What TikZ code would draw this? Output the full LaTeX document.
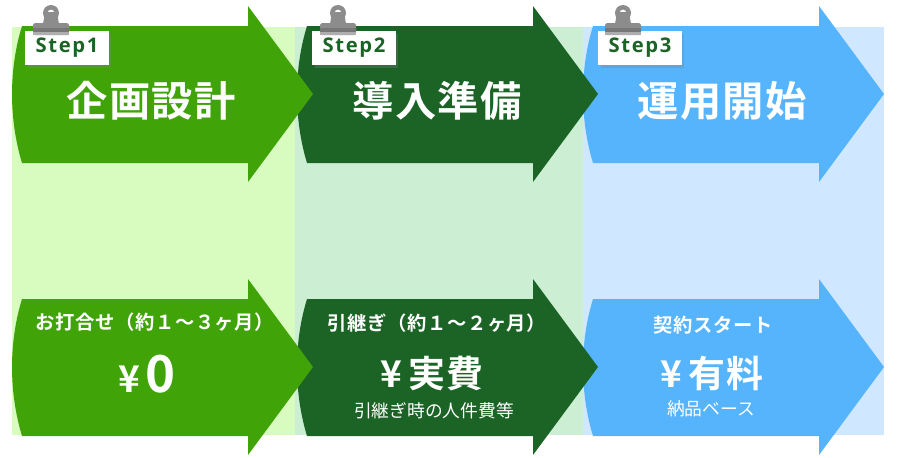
\documentclass[tikz,border=0pt]{standalone}
\usepackage{fontspec}
\usepackage{xcolor}
\usetikzlibrary{shadows}
\setmainfont{Noto Sans CJK JP}
\newfontfamily\jpbold[LetterSpace=3]{Noto Sans CJK JP Bold}
\newfontfamily\jpreg{Noto Sans CJK JP}
\newfontfamily\stepfont[LetterSpace=8]{Open Sans Bold}
\definecolor{stepgreen}{HTML}{40A408}
\definecolor{stepdark}{HTML}{1B6425}
\definecolor{stepblue}{HTML}{56B4FC}
\definecolor{bandgreen}{HTML}{D8FCC0}
\definecolor{banddark}{HTML}{CCEFD3}
\definecolor{bandblue}{HTML}{D0E8FF}
\definecolor{clipgray}{HTML}{8C8C8C}

% arrow body: bulging left edge, then a head
\newcommand{\stepshape}[3]{
    \fill[#3, shift={(#1,#2)}] (10,-68) -- (236,-68) -- (236,-88) -- (301,0) -- (236,88) -- (236,69)
        -- (10,69) .. controls (-3.3,25) and (-3.3,-25) .. cycle;
}
% paper clip over a label
\newcommand{\stepclip}[1]{
    \fill[clipgray, shift={(#1,0)}] (-6,12) -- (6,12) -- (8,24) -- (-8,24) -- cycle;
    \fill[clipgray, even odd rule, shift={(#1,0)}] (0,13) circle (8) (0,13) circle (3.5);
    \fill[clipgray, rounded corners=1pt, shift={(#1,0)}] (-18,23) rectangle (18,35);
    \fill[clipgray!85!black, shift={(#1,0)}] (-18,28) rectangle (18,32);
    \fill[clipgray!70, shift={(#1,0)}] (-18,32) rectangle (18,35);
}

\begin{document}
\begin{tikzpicture}[
    x=0.02cm, y=-0.02cm,
    stepbox/.style={fill=white, text=stepdark, minimum width=1.68cm, minimum height=0.68cm, inner sep=0pt,
        font=\stepfont\fontsize{11.5}{11.5}\selectfont, drop shadow={shadow xshift=0.05cm, shadow yshift=-0.05cm, opacity=0.3}},
    titletext/.style={text=white, inner sep=0pt, font=\jpbold\fontsize{23.5}{23.5}\selectfont},
    periodtext/.style={text=white, inner sep=0pt, font=\jpbold\fontsize{11}{11}\selectfont},
    pricetext/.style={text=white, inner sep=0pt, font=\jpbold\fontsize{21}{21}\selectfont},
    subtext/.style={text=white, inner sep=0pt, font=\jpreg\fontsize{10.1}{10.1}\selectfont}
]
    \useasboundingbox (0,0) rectangle (900,457);

    % Bands
    \fill[bandgreen] (12,27) rectangle (295,435);
    \fill[banddark] (295,27) rectangle (583,435);
    \fill[bandblue] (583,27) rectangle (884,435);

    % Arrows, last one first
    \stepshape{583}{94}{stepblue}
    \stepshape{297}{94}{stepdark}
    \stepshape{12}{94}{stepgreen}
    \stepshape{583}{367}{stepblue}
    \stepshape{297}{367}{stepdark}
    \stepshape{12}{367}{stepgreen}

    % Labels
    \node[stepbox] (step1) at (67,48) {Step1};
    \node[stepbox] (step2) at (354,48) {Step2};
    \node[stepbox] (step3) at (640,48) {Step3};
    \stepclip{51}
    \stepclip{338}
    \stepclip{623}

    % Titles
    \node[titletext] (title1) at (151,101) {企画設計};
    \node[titletext] (title2) at (437,101) {導入準備};
    \node[titletext] (title3) at (722,101) {運用開始};

    % Periods
    \node[periodtext] (period1) at (155,322) {お打合せ（約１～３ヶ月）};
    \node[periodtext] (period2) at (437,323) {引継ぎ（約１～２ヶ月）};
    \node[periodtext] (period3) at (713,325) {契約スタート};

    % Prices
    \node[pricetext] (price1) at (147,374) {¥\,{\fontsize{29}{29}\selectfont 0}};
    \node[pricetext] (price2) at (432,374) {¥\,実費};
    \node[pricetext] (price3) at (712,373) {¥\,有料};

    % Notes
    \node[subtext] (note2) at (434,411) {引継ぎ時の人件費等};
    \node[subtext] (note3) at (711,409) {納品ベース};
\end{tikzpicture}
\end{document}
